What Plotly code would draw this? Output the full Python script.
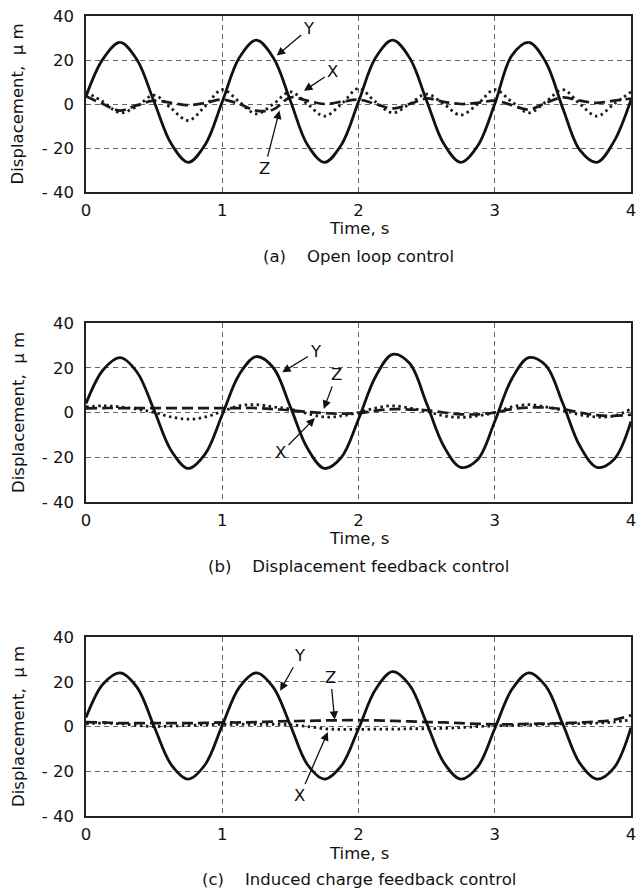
import plotly.graph_objects as go

# ---------------- data ----------------
time_s = [0, 0.125, 0.25, 0.375, 0.5, 0.625, 0.75, 0.875,
          1.0, 1.125, 1.25, 1.375, 1.5, 1.625, 1.75, 1.875,
          2.0, 2.125, 2.25, 2.375, 2.5, 2.625, 2.75, 2.875,
          3.0, 3.125, 3.25, 3.375, 3.5, 3.625, 3.75, 3.875, 4.0]

# (a) Open loop control
a_Y = [3.5, 20.5, 28, 20, 1, -18, -26.5, -18.5,
       1, 21, 29, 21, 1.5, -18.5, -26.5, -18.5,
       1, 21, 29, 21, 1.5, -18, -26.5, -19,
       0, 22, 28, 19, -2, -21, -26.5, -17, 2]
a_X = [5.5, 1, -4, -1, 4, -2, -7.5, -1,
       6.5, 1, -4.5, 0, 5.5, 0, -5.5, 0,
       7, 1, -4, 0, 4.5, 0, -5, 0,
       6.5, 1, -4, 1, 6.5, 0, -5.5, 0, 5.5]
a_Z = [3.5, 0, -3, -0.5, 1.5, 0.5, -0.5, 0.5,
       2, 0, -3, -2.5, 3, 1.5, 0, 1,
       2, 0, -2, 0, 2.5, 1, 0, 0.5,
       1.5, -0.5, -2.5, 0.5, 3, 1.5, 0.5, 1.5, 2.5]

# (b) Displacement feedback control
b_Y = [4, 19, 24.5, 18, 1, -17, -25, -18.5,
       -1, 17, 25, 20, 2.5, -16, -25, -20,
       -3, 16, 26, 22, 4, -15, -24.5, -21,
       -4, 15, 24.5, 21, 4, -15, -24.5, -21, -4]
b_X = [2.5, 3, 2.5, 1.5, 0, -2, -3, -2,
       0.5, 3, 3.5, 2.5, 1.5, -0.5, -2, -1.5,
       0, 2, 3, 2, 0.5, -1.5, -2.2, -1.5,
       0, 2.5, 3.5, 2.5, 1, -1, -2, -1.5, 1.5]
b_Z = [1.8, 2, 2, 2, 2, 2, 2, 2,
       2, 2, 2, 1.5, 1, 0.3, -0.3, -0.5,
       -0.3, 0.8, 1.5, 1.3, 1, 0, -0.8, -0.8,
       0, 1.5, 2.2, 2.2, 1.5, 0, -1.2, -1.5, -1]

# (c) Induced charge feedback control
c_Y = [4, 19, 24, 17.5, 0, -17, -23.5, -17,
       0.5, 17.5, 24, 17.5, 0.5, -17, -23.5, -17.5,
       -1, 16.5, 24.5, 18.5, 1.5, -16, -23.5, -18,
       -1, 16.5, 24, 18, 1, -16.5, -23.5, -18.5, -0.5]
c_X = [1.2, 1.5, 1.2, 0.5, 0, 0.2, 0.5, 0.8,
       1, 1, 1, 1, 0.8, 0, -1, -1.3,
       -1.3, -1.2, -1.2, -1, -1, -0.8, -0.5, 0,
       0.3, 0.5, 0.8, 1, 1.2, 1.3, 1.5, 2, 3]
c_Z = [2, 1.8, 1.5, 1.5, 1.5, 1.5, 1.5, 1.6,
       1.8, 1.8, 2, 2.2, 2.4, 2.5, 2.7, 2.8,
       2.8, 2.7, 2.5, 2.3, 2, 1.8, 1.5, 1.2,
       1, 1, 1.2, 1.3, 1.5, 1.8, 2.2, 3, 5]

x_ticks = [0, 1, 2, 3, 4]
x_ticktext = ["0", "1", "2", "3", "4"]
y_ticks = [-40, -20, 0, 20, 40]
y_ticktext = ["- 40", "- 20", "0", "20", "40"]

captions = ["(a)\u00a0\u00a0\u00a0\u00a0Open loop control",
            "(b)\u00a0\u00a0\u00a0\u00a0Displacement feedback control",
            "(c)\u00a0\u00a0\u00a0\u00a0Induced charge feedback control"]
x_title = "Time, s"
y_title = "Displacement,\u00a0\u00a0\u03bc m"

# curve labels: (label_t, label_y, tip_t, tip_y, text)
labels_a = [(1.64, 34.5, 1.40, 22, "Y"), (1.81, 14.6, 1.60, 6, "X"), (1.31, -29.4, 1.42, -3, "Z")]
labels_b = [(1.69, 27.3, 1.44, 18, "Y"), (1.84, 17, 1.745, 1.6, "Z"), (1.43, -18, 1.68, -2.5, "X")]
labels_c = [(1.57, 31.8, 1.425, 16, "Y"), (1.795, 22.1, 1.825, 3, "Z"), (1.57, -31, 1.775, -2.5, "X")]

# ---------------- figure ----------------
W, H = 642, 891
ML, MR, MT, MB = 86, 6, 16, 75
FONT = "DejaVu Sans, Liberation Sans, sans-serif"
FS = 16.5
INK = "#111111"

panels = [
    (a_X, a_Y, a_Z, labels_a, (0.78, 1.0)),
    (b_X, b_Y, b_Z, labels_b, (0.3925, 0.61625)),
    (c_X, c_Y, c_Z, labels_c, (0.0, 0.22375)),
]
caption_y = [0.699, 0.3119, -0.0793]
xtitle_y = [0.734, 0.3465, -0.0465]

fig = go.Figure()
annotations = []
for i, (X, Y, Z, labs, dom) in enumerate(panels):
    n = i + 1
    xa = "x" if n == 1 else f"x{n}"
    ya = "y" if n == 1 else f"y{n}"
    common = dict(x=time_s, xaxis=xa, yaxis=ya, mode="lines", showlegend=False,
                  line_shape="spline")
    fig.add_trace(go.Scatter(y=Z, line=dict(color="#1a1a1a", width=2.7, dash="11px,5px"), **common))
    fig.add_trace(go.Scatter(y=X, line=dict(color="#1a1a1a", width=2.8, dash="2.5px,3.5px"), **common))
    fig.add_trace(go.Scatter(y=Y, line=dict(color=INK, width=2.8), **common))

    axis_common = dict(showline=True, mirror=True, linecolor="#222", linewidth=1.5,
                       showgrid=True, gridcolor="#666", gridwidth=1, griddash="5px,4px",
                       zeroline=False, ticks="", ticklabeloverflow="allow",
                       tickfont=dict(family=FONT, size=FS, color=INK))
    fig.layout[("xaxis" if n == 1 else f"xaxis{n}")] = dict(
        domain=[0, 1], anchor=ya, range=[0, 4], tickvals=x_ticks, ticktext=x_ticktext,
        ticklabelstandoff=2, **axis_common)
    fig.layout[("yaxis" if n == 1 else f"yaxis{n}")] = dict(
        domain=list(dom), anchor=xa, range=[-40, 40], tickvals=y_ticks, ticktext=y_ticktext,
        ticklabelstandoff=7, **axis_common)

    for (lt, ly, tt, ty, txt) in labs:
        annotations.append(dict(x=tt, y=ty, xref=xa, yref=ya, ax=lt, ay=ly, axref=xa, ayref=ya,
                                text=txt, showarrow=True, arrowhead=2, arrowsize=1.3, arrowwidth=1.3,
                                arrowcolor=INK, standoff=0, startstandoff=1,
                                font=dict(family=FONT, size=FS, color=INK)))
    annotations.append(dict(x=0.5, y=caption_y[i], xref="paper", yref="paper", text=captions[i],
                            showarrow=False, xanchor="center", yanchor="middle",
                            font=dict(family=FONT, size=FS, color=INK)))
    annotations.append(dict(x=0.5, y=xtitle_y[i], xref="paper", yref="paper", text=x_title,
                            showarrow=False, xanchor="center", yanchor="middle",
                            font=dict(family=FONT, size=FS, color=INK)))
    annotations.append(dict(x=-0.124, y=(dom[0] + dom[1]) / 2, xref="paper", yref="paper",
                            text=y_title, textangle=-90, showarrow=False,
                            xanchor="center", yanchor="middle",
                            font=dict(family=FONT, size=FS, color=INK)))

fig.update_layout(width=W, height=H, margin=dict(l=ML, r=MR, t=MT, b=MB),
                  paper_bgcolor="white", plot_bgcolor="white",
                  annotations=annotations, font=dict(family=FONT, size=FS, color=INK))

# remove the browser's default 8px page margin so the figure sits at the window's top-left
fig.write_html("out.html", config={"displayModeBar": False},
               post_script="document.body.style.margin='0px';document.body.style.overflow='hidden';")
